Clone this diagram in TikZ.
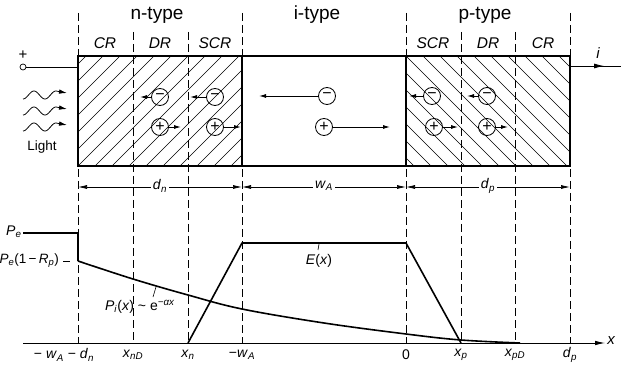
\documentclass[tikz,border=0pt]{standalone}
\usepackage{fontspec}
\setmainfont{Liberation Sans}
\usetikzlibrary{arrows.meta}
\newcommand\iv[1]{\textit{#1}}
\newcommand\sbs[1]{\textsubscript{\textit{#1}}}
\newcommand\sps[1]{\textsuperscript{\textit{#1}}}
\begin{document}
\begin{tikzpicture}[x=1pt,y=-1pt,
  boxline/.style={line width=1.4pt},
  hatch/.style={line width=0.5pt},
  dashln/.style={line width=0.7pt,dash pattern=on 8pt off 4pt},
  curve/.style={line width=1.6pt,line join=round},
  dimarr/.style={line width=0.7pt,{Latex[length=9pt,width=4pt]}-{Latex[length=9pt,width=4pt]}},
  carr/.style={line width=0.9pt,-{Latex[length=7pt,width=4pt]}},
  chg/.style={circle,draw,line width=0.8pt,minimum size=17pt,inner sep=0pt,font=\fontsize{16}{16}\selectfont},
  head/.style={font=\fontsize{19}{22}\selectfont},
  reg/.style={font=\fontsize{15.5}{17}\itshape},
  lab/.style={font=\fontsize{14}{16}\selectfont,inner sep=1pt},
  dimlab/.style={font=\fontsize{14}{16}\selectfont,fill=white,inner sep=2pt}
]
\useasboundingbox (0,0) rectangle (621,366);
% hatching
\begin{scope}
\clip (78,56) rectangle (242,166);
\foreach \k in {-7,...,10} \draw[hatch] ({78+\k*17},166) -- ++(115,-115);
\end{scope}
\begin{scope}
\clip (406,56) rectangle (570,166);
\foreach \k in {-7,...,10} \draw[hatch] ({406+\k*17},56) -- ++(115,115);
\end{scope}
% dashed verticals
\foreach \xx in {78,242,406,570}
  \draw[dashln] (\xx,13) -- (\xx,343);
\foreach \xx in {133,188,461,515}
  \draw[dashln] (\xx,32) -- (\xx,343);
% box
\draw[boxline] (78,56) rectangle (570,166);
\draw[boxline] (242,56) -- (242,166);
\draw[boxline] (406,56) -- (406,166);
% headings
\node[head] (hn) at (157,15) {n-type};
\node[head] (hi) at (317,15) {i-type};
\node[head] (hp) at (485,15) {p-type};
\node[reg] (r1) at (105,43) {CR};
\node[reg] (r2) at (160,43) {DR};
\node[reg] (r3) at (215,43) {SCR};
\node[reg] (r4) at (433,43) {SCR};
\node[reg] (r5) at (488,43) {DR};
\node[reg] (r6) at (543,43) {CR};
% left terminal
\node[circle,draw,line width=0.7pt,minimum size=6pt,inner sep=0pt] (term) at (23,67) {};
\node[font=\fontsize{15}{15}\selectfont,inner sep=0pt] (plus) at (23,55) {+};
\coordinate (bl) at (78,67);
\draw[line width=0.8pt] (term.east) -- (bl);
% right wire
\coordinate (br) at (570,66);
\coordinate (wa) at (604,66);
\coordinate (we) at (621,66);
\draw[line width=0.8pt] (br) -- (we);
\draw[line width=0.8pt,-{Latex[length=10pt,width=5pt]}] (br) -- (wa);
\node[lab,font=\fontsize{15}{16}\itshape] (cur) at (598,53) {i};
% light
\foreach \yy in {95,111,127}{
  \draw[line width=0.8pt,-{Latex[length=8pt,width=4.5pt]}]
    plot[domain=0:33,samples=60,smooth] ({23+\x},{\yy+4*sin(\x*16.4+90)}) -- (67,\yy-2);
}
\node[font=\fontsize{13.5}{15}\selectfont] (light) at (42,147) {Light};
% charges
\node[chg] (m1) at (160,97) {−};
\coordinate (m1t) at (140,97);
\draw[carr] (m1) -- (m1t);
\node[chg] (p1) at (160,127) {+};
\coordinate (p1t) at (181,127);
\draw[carr] (p1) -- (p1t);
\node[chg] (m2) at (215,97) {−};
\coordinate (m2t) at (190,97);
\draw[carr] (m2) -- (m2t);
\node[chg] (p2) at (215,127) {+};
\coordinate (p2t) at (241,127);
\draw[carr] (p2) -- (p2t);
\node[chg] (m3) at (327,96) {−};
\coordinate (m3t) at (259,96);
\draw[carr] (m3) -- (m3t);
\node[chg] (p3) at (324,127) {+};
\coordinate (p3t) at (390,127);
\draw[carr] (p3) -- (p3t);
\node[chg] (m4) at (432,96) {−};
\coordinate (m4t) at (409,96);
\draw[carr] (m4) -- (m4t);
\node[chg] (p4) at (434,127) {+};
\coordinate (p4t) at (458,127);
\draw[carr] (p4) -- (p4t);
\node[chg] (m5) at (487,96) {−};
\coordinate (m5t) at (467,96);
\draw[carr] (m5) -- (m5t);
\node[chg] (p5) at (487,127) {+};
\coordinate (p5t) at (508,127);
\draw[carr] (p5) -- (p5t);
% dimension line
\coordinate (d0) at (78,187);
\coordinate (d1) at (242,187);
\coordinate (d2) at (406,187);
\coordinate (d3) at (570,187);
\draw[dimarr] (d0) -- (d1);
\draw[dimarr] (d1) -- (d2);
\draw[dimarr] (d2) -- (d3);
\node[dimlab] (ldn) at (160,186) {\iv{d}\sbs{n}};
\node[dimlab] (lwa) at (324,186) {\iv{w}\sbs{A}};
\node[dimlab] (ldp) at (488,186) {\iv{d}\sbs{p}};
% axis
\coordinate (ax0) at (23,343);
\coordinate (ax1) at (605,343);
\draw[line width=0.8pt,-{Latex[length=10pt,width=4.5pt]}] (ax0) -- (ax1);
\node[lab,font=\fontsize{15}{16}\itshape] (lx) at (611,341) {x};
% E(x)
\draw[curve] (188,343) -- (242,243) -- (406,243) -- (461,343);
\draw[line width=0.6pt] (319,244) -- (318,250);
\node[lab] (le) at (319,261) {\iv{E}(\iv{x})};
% P(x)
\draw[curve] (23,233) -- (78,233) -- (78,261);
\draw[curve] plot[smooth,tension=0.6] coordinates {(78,261) (133,279) (188,295) (242,309) (324,323) (406,334) (461,340) (520,343)};
\node[lab,anchor=west] (lpe) at (5,232) {\iv{P}\sbs{e}};
\node[lab,anchor=east,font=\fontsize{13.5}{16}\selectfont] (lpr) at (60,261) {\iv{P}\sbs{e}(1\,−\,\iv{R}\sbs{p})};
\draw[line width=0.7pt] (63,261) -- (70,261);
\node[lab] (lpi) at (140,307) {\iv{P}\sbs{i}(\iv{x}) \textasciitilde{} e\sps{−αx}};
\draw[line width=0.6pt] (153,297) -- (156,287);
% ticks
\node[lab] (t0) at (64,355) {− \iv{w}\sbs{A} − \iv{d}\sbs{n}};
\node[lab] (t1) at (133,355) {\iv{x}\sbs{nD}};
\node[lab] (t2) at (188,355) {\iv{x}\sbs{n}};
\node[lab] (t3) at (242,355) {−\iv{w}\sbs{A}};
\node[lab] (t4) at (406,355) {0};
\node[lab] (t5) at (461,355) {\iv{x}\sbs{p}};
\node[lab] (t6) at (515,355) {\iv{x}\sbs{pD}};
\node[lab] (t7) at (570,355) {\iv{d}\sbs{p}};
\end{tikzpicture}
\end{document}
